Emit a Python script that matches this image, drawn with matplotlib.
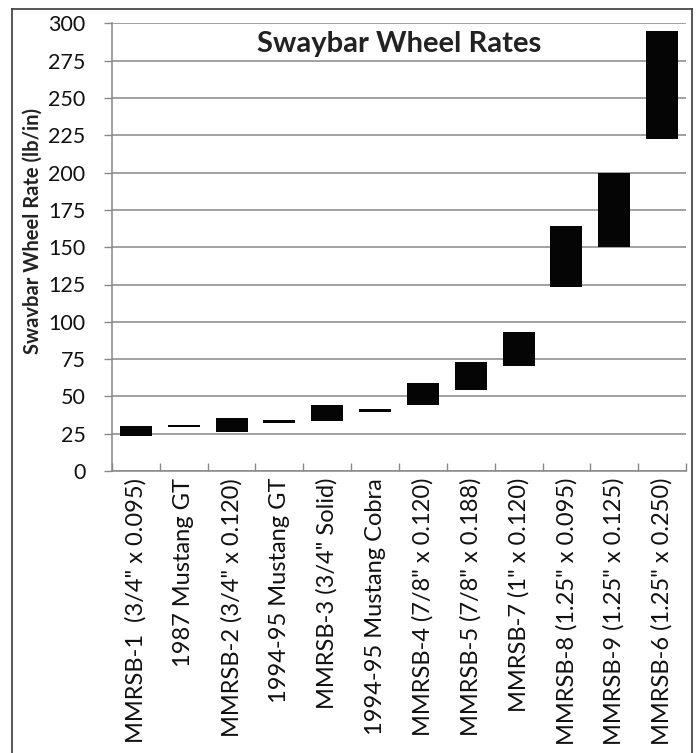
import matplotlib
matplotlib.use("Agg")
import matplotlib.pyplot as plt
from matplotlib.lines import Line2D
from matplotlib.ticker import FixedLocator

categories = [
    'MMRSB-1  (3/4" x 0.095)',
    '1987 Mustang GT',
    'MMRSB-2 (3/4" x 0.120)',
    '1994-95 Mustang GT',
    'MMRSB-3 (3/4" Solid)',
    '1994-95 Mustang Cobra',
    'MMRSB-4 (7/8" x 0.120)',
    'MMRSB-5 (7/8" x 0.188)',
    'MMRSB-7 (1" x 0.120)',
    'MMRSB-8 (1.25" x 0.095)',
    'MMRSB-9 (1.25" x 0.125)',
    'MMRSB-6 (1.25" x 0.250)',
]
low_rate = [23.3, 29.3, 26.4, 32.4, 33.3, 39.3, 44.0, 54.3, 70.4, 123.3, 150.0, 222.7]
high_rate = [30.2, 31.0, 35.5, 34.1, 44.0, 41.3, 59.0, 73.3, 93.0, 164.0, 200.0, 295.0]
y_ticks = list(range(0, 301, 25))

plt.rcParams['font.family'] = ['Lato', 'DejaVu Sans']

fig = plt.figure(figsize=(6.97, 7.53), dpi=100)
ax = fig.add_axes([112/697, 1 - 471/753, (686-112)/697, (471-23.4)/753])

x = list(range(len(categories)))
heights = [h - l for h, l in zip(high_rate, low_rate)]
ax.bar(x, heights, bottom=low_rate, width=0.67, color='#050505', zorder=3)

ax.set_xlim(-0.5, len(categories) - 0.5)
ax.set_ylim(0, 300)
ax.set_yticks(y_ticks)
ax.set_yticklabels([str(v) for v in y_ticks], fontsize=15.5, color='#111111')
ax.set_xticks(x)
ax.set_xticklabels(categories, rotation=90, fontsize=17, color='#111111')
ax.xaxis.set_minor_locator(FixedLocator([i + 0.5 for i in range(-1, len(categories))]))
ax.tick_params(axis='x', which='major', length=0, pad=5)
ax.tick_params(axis='x', which='minor', direction='in', length=5.5, color='#888888', width=1)
ax.tick_params(axis='y', which='major', direction='out', length=6, color='#888888', width=1, pad=13)

ax.grid(axis='y', color='#888888', linewidth=1.1, zorder=0)
ax.set_axisbelow(True)
for s in ['top', 'right']:
    ax.spines[s].set_visible(False)
for s in ['left', 'bottom']:
    ax.spines[s].set_color('#888888')
    ax.spines[s].set_linewidth(1.1)

ax.set_ylabel('Swavbar Wheel Rate (lb/in)', fontsize=14.5, fontweight='bold', color='#222222')
ax.yaxis.set_label_coords((43 - 112) / 574, (471 - 231) / 447.6)
ax.text(0.5, (471 - 51.7) / 447.6, 'Swaybar Wheel Rates', transform=ax.transAxes, ha='center',
        va='baseline', fontsize=21, fontweight='bold', color='#222222', zorder=5)

# outer frame
fx0, fx1, fy1 = 12/697, 692/697, 1 - 9.3/753
frame_kw = dict(transform=fig.transFigure, color='#3a3a3a', linewidth=1.2)
fig.add_artist(Line2D([fx0, fx0], [0, fy1], **frame_kw))
fig.add_artist(Line2D([fx1, fx1], [0, fy1], **frame_kw))
fig.add_artist(Line2D([fx0, fx1], [fy1, fy1], **frame_kw))

fig.savefig('out.png', dpi=100)
